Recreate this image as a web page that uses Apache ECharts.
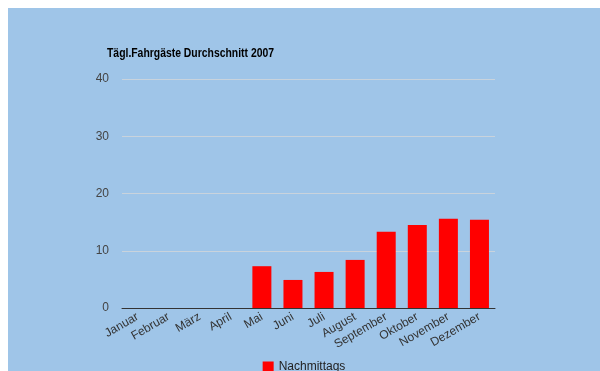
<!DOCTYPE html>
<html><head><meta charset="utf-8">
<script src="https://cdn.jsdelivr.net/npm/echarts@6/dist/echarts.min.js"></script>
<style>
html,body{margin:0;padding:0;background:#fff;width:600px;height:371px;overflow:hidden}
#c{position:absolute;left:8px;top:8px;width:592px;height:363px}
</style></head><body>
<div id="c"></div>
<script>
const categories = ['Januar','Februar','März','April','Mai','Juni','Juli','August','September','Oktober','November','Dezember'];
const nachmittags = [0,0,0,0,7.3,4.9,6.3,8.4,13.3,14.5,15.6,15.4];
const yTicks = [0,10,20,30,40];
const chartTitle = 'Tägl.Fahrgäste Durchschnitt 2007';
const chart = echarts.init(document.getElementById('c'));
chart.setOption({
  backgroundColor:'#9fc5e8',
  animation:false,
  graphic:[{type:'text',x:99,y:45,scaleX:0.8,scaleY:1,
    style:{text:chartTitle,fontFamily:'Liberation Sans, Arial',fontWeight:'bold',fontSize:13,fill:'#000',verticalAlign:'middle',align:'left'}}],
  grid:{left:114,right:105,top:71,bottom:63},
  legend:{bottom:-7,left:'center',data:['Nachmittags'],icon:'rect',itemWidth:11,itemHeight:11,itemGap:6,
    textStyle:{fontFamily:'Liberation Sans, Arial',fontSize:12,color:'#222'}},
  xAxis:{type:'category',data:categories,
    axisLine:{lineStyle:{color:'#333',width:1}},axisTick:{show:false},
    axisLabel:{rotate:30,interval:0,margin:8,fontFamily:'Liberation Sans, Arial',fontSize:12,color:'#333'}},
  yAxis:{type:'value',min:yTicks[0],max:yTicks[yTicks.length-1],interval:10,
    axisLine:{show:false},axisTick:{show:false},
    splitLine:{lineStyle:{color:'#c9d3dc',width:1}},
    axisLabel:{margin:13,fontFamily:'Liberation Sans, Arial',fontSize:12,color:'#444'}},
  series:[{name:'Nachmittags',type:'bar',data:nachmittags,barWidth:19,itemStyle:{color:'#ff0000'}}]
});
</script></body></html>
